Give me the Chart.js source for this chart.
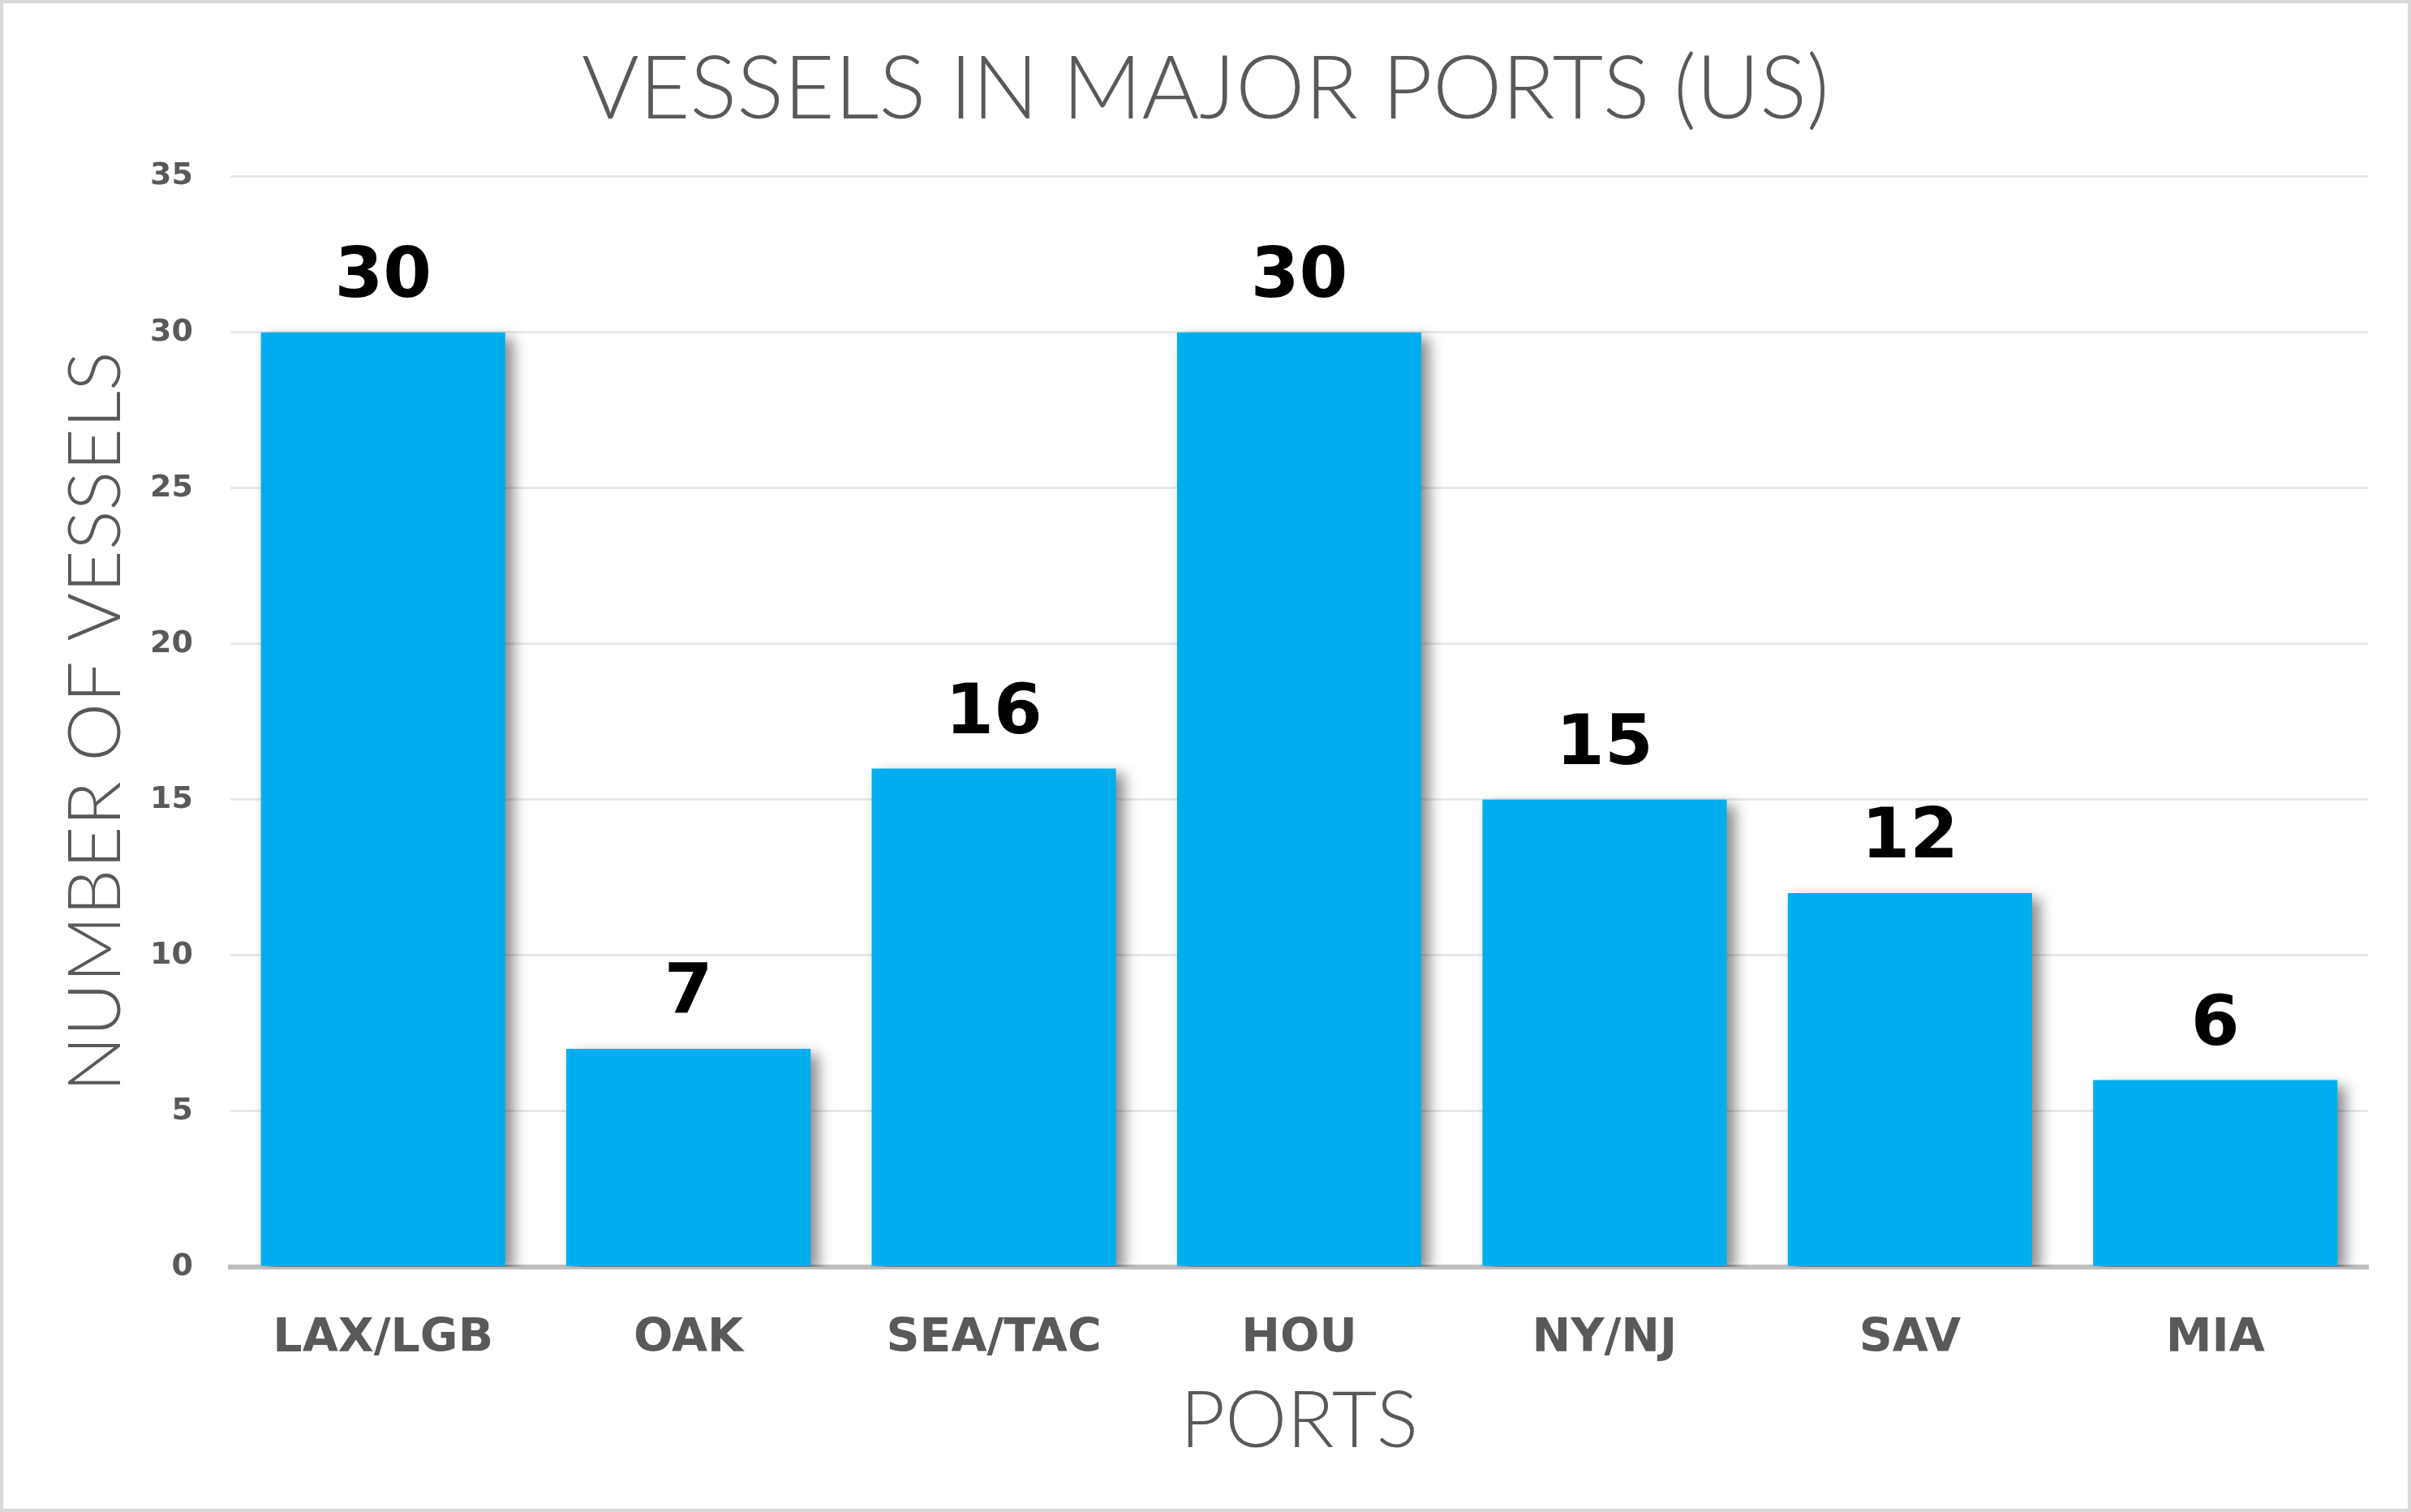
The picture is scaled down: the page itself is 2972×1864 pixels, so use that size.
<!DOCTYPE html>
<html>
<head>
<meta charset="utf-8">
<title>Vessels in Major Ports (US)</title>
<script src="https://cdn.jsdelivr.net/npm/chart.js@4/dist/chart.umd.min.js"></script>
<style>
  html, body { margin: 0; padding: 0; background: #fff; }
  canvas { display: block; }
</style>
</head>
<body>
<canvas id="portsChart" width="2972" height="1864"></canvas>
<script>
// chart data
const ports = ['LAX/LGB', 'OAK', 'SEA/TAC', 'HOU', 'NY/NJ', 'SAV', 'MIA'];
const vessels = [30, 7, 16, 30, 15, 12, 6];
const yTicks = [0, 5, 10, 15, 20, 25, 30, 35];

const grey = '#595959';

// white page + thin frame round the picture
const framePlugin = {
    id: 'frame',
    beforeDraw(chart) {
        const c = chart.ctx;
        c.save();
        c.fillStyle = '#ffffff';
        c.fillRect(0, 0, chart.width, chart.height);
        c.strokeStyle = '#d9d9d9';
        c.lineWidth = 4;
        c.strokeRect(2, 2, chart.width - 4, chart.height - 4);
        c.restore();
    }
};

// soft drop shadow behind the bars
const shadowPlugin = {
    id: 'barShadow',
    beforeDatasetsDraw(chart) {
        const c = chart.ctx;
        c.save();
        c.shadowColor = 'rgba(0, 0, 0, 0.45)';
        c.shadowBlur = 16;
        c.shadowOffsetX = 10;
        c.shadowOffsetY = 7;
    },
    afterDatasetsDraw(chart) {
        chart.ctx.restore();
    }
};

// value written above each bar
const valueLabels = {
    id: 'valueLabels',
    afterDatasetsDraw(chart) {
        const c = chart.ctx;
        const meta = chart.getDatasetMeta(0);
        c.save();
        c.fillStyle = '#000000';
        c.font = 'bold 86px "DejaVu Sans"';
        c.textAlign = 'center';
        c.textBaseline = 'middle';
        meta.data.forEach((bar, i) => {
            c.fillText(String(vessels[i]), bar.x, bar.y - 66);
        });
        c.restore();
    }
};

const ctx = document.getElementById('portsChart').getContext('2d');
const portsChart = new Chart(ctx, {
    type: 'bar',
    data: {
        labels: ports,
        datasets: [{
            label: 'Vessels',
            data: vessels,
            backgroundColor: '#00aeef',
            borderWidth: 0,
            barPercentage: 0.8,
            categoryPercentage: 1.0
        }]
    },
    options: {
        responsive: false,
        devicePixelRatio: 1,
        animation: false,
        // equal side padding keeps the title centred on the page
        layout: {
            padding: { left: 53, right: 53, top: 0, bottom: 0 }
        },
        plugins: {
            legend: { display: false },
            tooltip: { enabled: false },
            title: {
                display: true,
                text: 'VESSELS IN MAJOR PORTS (US)',
                color: grey,
                font: { family: 'Lato', size: 108, weight: '300', lineHeight: 1.2 },
                padding: { top: 46, bottom: 42 }
            }
        },
        scales: {
            x: {
                grid: { display: false, drawTicks: false },
                border: { display: true, color: '#bfbfbf', width: 6 },
                ticks: {
                    color: grey,
                    font: { family: 'DejaVu Sans', size: 57, weight: 'bold' },
                    padding: 55
                },
                title: {
                    display: true,
                    text: 'PORTS',
                    color: grey,
                    font: { family: 'Lato', size: 96, weight: '300', lineHeight: 1.2 },
                    padding: { top: 0, bottom: 53 }
                },
                afterFit(scale) { scale.height = 302; }
            },
            y: {
                min: 0,
                max: 35,
                afterBuildTicks(scale) {
                    scale.ticks = yTicks.map(v => ({ value: v }));
                },
                grid: { color: '#e8e8e8', lineWidth: 3, drawTicks: false },
                border: { display: false },
                ticks: {
                    color: grey,
                    font: { family: 'DejaVu Sans', size: 38, weight: 'bold' },
                    padding: 46
                },
                title: {
                    display: true,
                    text: 'NUMBER OF VESSELS',
                    color: grey,
                    font: { family: 'Lato', size: 91, weight: '300', lineHeight: 1.2 },
                    padding: { top: 11, bottom: 0 }
                },
                afterFit(scale) { scale.width = 231; }
            }
        }
    },
    plugins: [framePlugin, shadowPlugin, valueLabels]
});
</script>
</body>
</html>
